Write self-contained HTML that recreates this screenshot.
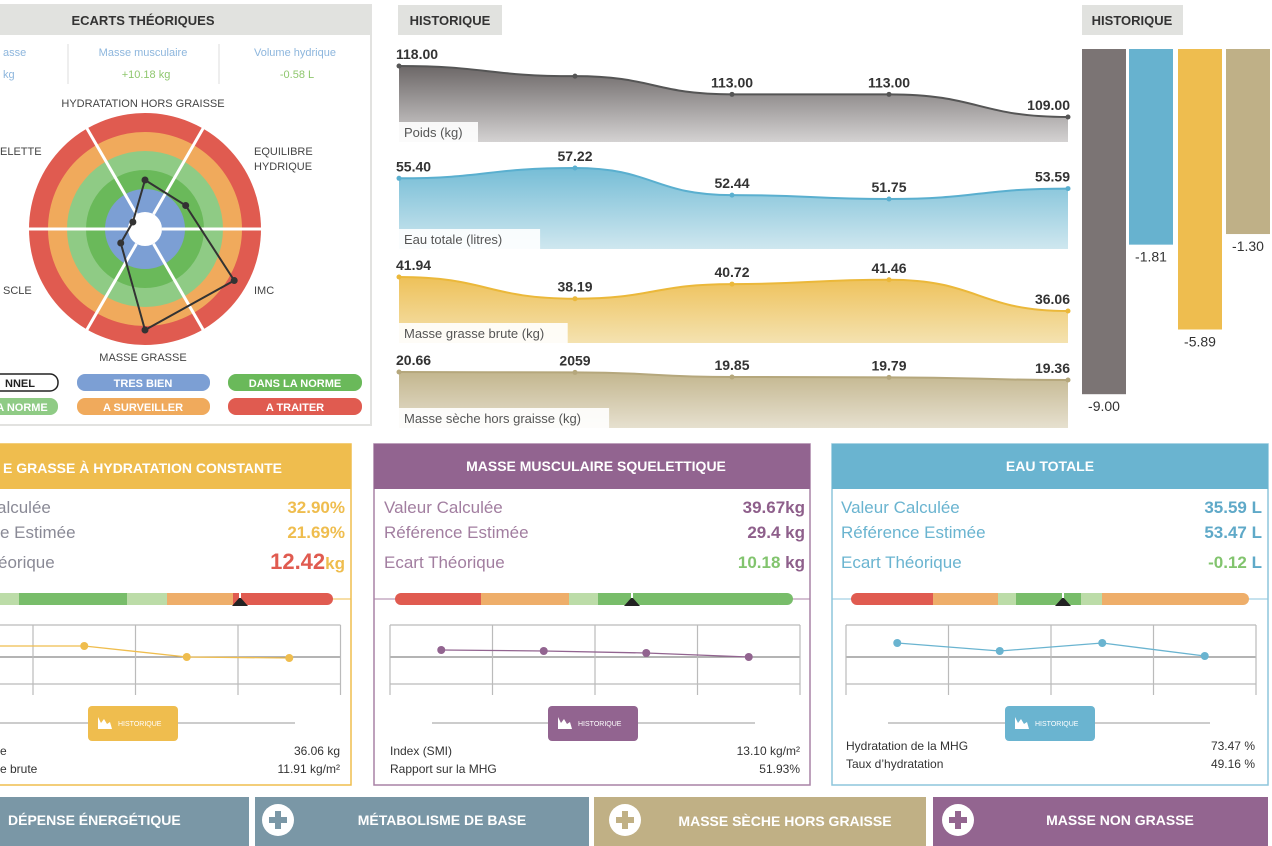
<!DOCTYPE html>
<html><head><meta charset="utf-8"><style>
html,body{margin:0;padding:0;background:#fff;width:1272px;height:846px;overflow:hidden}
svg{display:block;font-family:"Liberation Sans",sans-serif}
</style></head><body>
<svg id="page" width="1272" height="846" viewBox="0 0 1272 846" xmlns="http://www.w3.org/2000/svg">
<defs>
<linearGradient id="gGray" x1="0" y1="0" x2="0" y2="1"><stop offset="0" stop-color="#6c6767"/><stop offset="1" stop-color="#d4d2d2"/></linearGradient>
<linearGradient id="gBlue" x1="0" y1="0" x2="0" y2="1"><stop offset="0" stop-color="#76bdd6"/><stop offset="1" stop-color="#cfe7ef"/></linearGradient>
<linearGradient id="gYellow" x1="0" y1="0" x2="0" y2="1"><stop offset="0" stop-color="#eec159"/><stop offset="1" stop-color="#f4e2b0"/></linearGradient>
<linearGradient id="gTan" x1="0" y1="0" x2="0" y2="1"><stop offset="0" stop-color="#c3b68e"/><stop offset="1" stop-color="#e6e0cf"/></linearGradient>
</defs>

<!-- LEFT PANEL -->
<g>
<rect x="-2" y="5" width="373" height="420" fill="#fff" stroke="#e2e2e0" stroke-width="2"/>
<rect x="-2" y="5" width="373" height="30" fill="#e1e2df"/>
<text x="143" y="25" text-anchor="middle" font-size="13" font-weight="bold" fill="#333">ECARTS THÉORIQUES</text>
<line x1="68" y1="44" x2="68" y2="84" stroke="#ddd"/>
<line x1="219" y1="44" x2="219" y2="84" stroke="#ddd"/>
<text x="3" y="56" font-size="11" fill="#8db6dd">asse</text>
<text x="143" y="56" text-anchor="middle" font-size="11" fill="#8db6dd">Masse musculaire</text>
<text x="295" y="56" text-anchor="middle" font-size="11" fill="#8db6dd">Volume hydrique</text>
<text x="3" y="78" font-size="11" fill="#8db6dd">kg</text>
<text x="146" y="78" text-anchor="middle" font-size="11" fill="#8fc76e">+10.18 kg</text>
<text x="297" y="78" text-anchor="middle" font-size="11" fill="#8fc76e">-0.58 L</text>
<g id="radar"></g>
<g font-size="11" fill="#444">
<text x="143" y="107" text-anchor="middle">HYDRATATION HORS GRAISSE</text>
<text x="0" y="155">ELETTE</text>
<text x="254" y="155">EQUILIBRE</text>
<text x="254" y="170">HYDRIQUE</text>
<text x="3" y="294">SCLE</text>
<text x="254" y="294">IMC</text>
<text x="143" y="361" text-anchor="middle">MASSE GRASSE</text>
</g>
<g font-size="11" font-weight="bold" fill="#fff" text-anchor="middle">
<rect x="-20" y="374" width="78" height="17" rx="8" fill="#fff" stroke="#222" stroke-width="1.5"/>
<text x="20" y="387" fill="#222">NNEL</text>
<rect x="77" y="374" width="133" height="17" rx="8" fill="#7c9fd4"/>
<text x="143" y="387">TRES BIEN</text>
<rect x="228" y="374" width="134" height="17" rx="8" fill="#6ab95a"/>
<text x="295" y="387">DANS LA NORME</text>
<rect x="-20" y="398" width="78" height="17" rx="8" fill="#8fcb85"/>
<text x="22" y="411">A NORME</text>
<rect x="77" y="398" width="133" height="17" rx="8" fill="#f0aa5c"/>
<text x="143" y="411">A SURVEILLER</text>
<rect x="228" y="398" width="134" height="17" rx="8" fill="#e05b50"/>
<text x="295" y="411">A TRAITER</text>
</g>
</g>

<!-- HISTORIQUE AREA CHARTS -->
<rect x="398" y="5" width="104" height="30" fill="#e1e2df"/>
<text x="450" y="25" text-anchor="middle" font-size="13" font-weight="bold" fill="#333">HISTORIQUE</text>
<g id="areas"></g>

<!-- BAR CHART -->
<rect x="1082" y="5" width="101" height="30" fill="#e1e2df"/>
<text x="1132" y="25" text-anchor="middle" font-size="13" font-weight="bold" fill="#333">HISTORIQUE</text>
<g id="bars"></g>

<!-- CARD 1 -->
<g>
<rect x="-10" y="444" width="361" height="341" fill="#fff" stroke="#efbd4e" stroke-width="1.5"/>
<rect x="-10" y="444" width="361" height="45" fill="#efbd4e"/>
<text x="3" y="473" font-size="14" font-weight="bold" fill="#fff">E GRASSE À HYDRATATION CONSTANTE</text>
<g font-size="17" fill="#8a8a96"><text x="-3" y="513">alculée</text><text x="0" y="538">e Estimée</text><text x="-2" y="568">éorique</text></g>
<g font-size="17" font-weight="bold" text-anchor="end"><text x="345" y="513" fill="#efbd4e">32.90%</text><text x="345" y="538" fill="#efbd4e">21.69%</text><text x="345" y="569" fill="#e05b50" font-size="22">12.42<tspan fill="#efbd4e" font-size="17">kg</tspan></text></g>
<line x1="0" y1="599" x2="351" y2="599" stroke="#efbd4e"/>
<rect x="0" y="593" width="19" height="12" fill="#bcdca8"/><rect x="19" y="593" width="108" height="12" fill="#78bd6a"/><rect x="127" y="593" width="40" height="12" fill="#bcdca8"/><rect x="167" y="593" width="66" height="12" fill="#eeae6a"/>
<rect x="233" y="593" width="100" height="12" rx="6" fill="#e05b50"/><rect x="233" y="593" width="10" height="12" fill="#e05b50"/>
<path d="M232 606 L240 597 L248 606 Z" fill="#222"/><line x1="240" y1="590" x2="240" y2="598" stroke="#fff" stroke-width="2"/>
</g>
<!-- CARD 2 -->
<g>
<rect x="374" y="444" width="436" height="341" fill="#fff" stroke="#a882a6" stroke-width="1.5"/>
<rect x="374" y="444" width="436" height="45" fill="#926490"/>
<text x="596" y="471" text-anchor="middle" font-size="14" font-weight="bold" fill="#fff">MASSE MUSCULAIRE SQUELETTIQUE</text>
<g font-size="17" fill="#a27ea0"><text x="384" y="513">Valeur Calculée</text><text x="384" y="538">Référence Estimée</text><text x="384" y="568">Ecart Théorique</text></g>
<g font-size="17" font-weight="bold" text-anchor="end" fill="#8e5f8b"><text x="805" y="513">39.67kg</text><text x="805" y="538">29.4 kg</text><text x="805" y="568"><tspan fill="#82c46e">10.18</tspan> kg</text></g>
<line x1="374" y1="599" x2="810" y2="599" stroke="#a882a6"/>
<rect x="395" y="593" width="20" height="12" rx="6" fill="#e05b50"/><rect x="401" y="593" width="80" height="12" fill="#e05b50"/><rect x="481" y="593" width="88" height="12" fill="#eeae6a"/><rect x="569" y="593" width="29" height="12" fill="#bcdca8"/><rect x="598" y="593" width="180" height="12" fill="#78bd6a"/><rect x="773" y="593" width="20" height="12" rx="6" fill="#78bd6a"/>
<path d="M624 606 L632 597 L640 606 Z" fill="#222"/><line x1="632" y1="590" x2="632" y2="598" stroke="#fff" stroke-width="2"/>
</g>
<!-- CARD 3 -->
<g>
<rect x="832" y="444" width="436" height="341" fill="#fff" stroke="#8ec6dc" stroke-width="1.5"/>
<rect x="832" y="444" width="436" height="45" fill="#6ab4d0"/>
<text x="1050" y="471" text-anchor="middle" font-size="14" font-weight="bold" fill="#fff">EAU TOTALE</text>
<g font-size="17" fill="#6ab4d0"><text x="841" y="513">Valeur Calculée</text><text x="841" y="538">Référence Estimée</text><text x="841" y="568">Ecart Théorique</text></g>
<g font-size="17" font-weight="bold" text-anchor="end" fill="#5fa9c8"><text x="1262" y="513">35.59 L</text><text x="1262" y="538">53.47 L</text><text x="1262" y="568"><tspan fill="#82c46e">-0.12</tspan> L</text></g>
<line x1="832" y1="599" x2="1268" y2="599" stroke="#8ec6dc"/>
<rect x="851" y="593" width="20" height="12" rx="6" fill="#e05b50"/><rect x="858" y="593" width="75" height="12" fill="#e05b50"/><rect x="933" y="593" width="65" height="12" fill="#eeae6a"/><rect x="998" y="593" width="18" height="12" fill="#bcdca8"/><rect x="1016" y="593" width="65" height="12" fill="#78bd6a"/><rect x="1081" y="593" width="21" height="12" fill="#bcdca8"/><rect x="1102" y="593" width="140" height="12" fill="#eeae6a"/><rect x="1229" y="593" width="20" height="12" rx="6" fill="#eeae6a"/>
<path d="M1055 606 L1063 597 L1071 606 Z" fill="#222"/><line x1="1063" y1="590" x2="1063" y2="598" stroke="#fff" stroke-width="2"/>
</g>
<g id="minis"></g>

<!-- footers -->
<g font-size="12" fill="#333">
<text x="0" y="755">e</text><text x="340" y="755" text-anchor="end">36.06 kg</text>
<text x="0" y="773">e brute</text><text x="340" y="773" text-anchor="end">11.91 kg/m²</text>
<text x="390" y="755">Index (SMI)</text><text x="800" y="755" text-anchor="end">13.10 kg/m²</text>
<text x="390" y="773">Rapport sur la MHG</text><text x="800" y="773" text-anchor="end">51.93%</text>
<text x="846" y="750">Hydratation de la MHG</text><text x="1255" y="750" text-anchor="end">73.47 %</text>
<text x="846" y="768">Taux d’hydratation</text><text x="1255" y="768" text-anchor="end">49.16 %</text>
</g>

<!-- bottom buttons -->
<g font-size="14" font-weight="bold" fill="#fff">
<g><rect x="-5" y="797" width="254" height="49" fill="#7a97a6"/><text x="8" y="825">DÉPENSE ÉNERGÉTIQUE</text></g>
<g><rect x="255" y="797" width="334" height="49" fill="#7a97a6"/><circle cx="278" cy="820" r="16" fill="#fff"/><path d="M269 820h18M278 811v18" stroke="#7a97a6" stroke-width="6"/><text x="442" y="825" text-anchor="middle">MÉTABOLISME DE BASE</text></g>
<g><rect x="594" y="797" width="332" height="49" fill="#c0b085"/><circle cx="625" cy="820" r="16" fill="#fff"/><path d="M616 820h18M625 811v18" stroke="#c0b085" stroke-width="6"/><text x="785" y="826" text-anchor="middle">MASSE SÈCHE HORS GRAISSE</text></g>
<g><rect x="933" y="797" width="335" height="49" fill="#936590"/><circle cx="958" cy="820" r="16" fill="#fff"/><path d="M949 820h18M958 811v18" stroke="#936590" stroke-width="6"/><text x="1120" y="825" text-anchor="middle">MASSE NON GRASSE</text></g>
</g>
</svg>
<script>
// ---- data ----
const radarAxes = ['HYDRATATION HORS GRAISSE','EQUILIBRE HYDRIQUE','IMC','MASSE GRASSE','MUSCLE','SQUELETTE'];
const radarValues = [49, 47, 103, 101, 28, 14];
const poidsValues = [118.00, 116.2, 113.00, 113.00, 109.00];
const poidsLabels = ['118.00', '', '113.00', '113.00', '109.00'];
const eauValues = [55.40, 57.22, 52.44, 51.75, 53.59];
const eauLabels = ['55.40', '57.22', '52.44', '51.75', '53.59'];
const grasseValues = [41.94, 38.19, 40.72, 41.46, 36.06];
const grasseLabels = ['41.94', '38.19', '40.72', '41.46', '36.06'];
const secheValues = [20.66, 20.59, 19.85, 19.79, 19.36];
const secheLabels = ['20.66', '2059', '19.85', '19.79', '19.36'];
const barValues = [-9.00, -1.81, -5.89, -1.30];
const barLabels = ['-9.00', '-1.81', '-5.89', '-1.30'];
const miniGrasse = [0.55, 0.55, 0.0, -0.05];
const miniMuscle = [0.35, 0.3, 0.2, 0.0];
const miniEau = [0.7, 0.3, 0.7, 0.05];

const NS = 'http://www.w3.org/2000/svg';
function mk(tag, attrs, parent) { const e = document.createElementNS(NS, tag); for (const k in attrs) e.setAttribute(k, attrs[k]); parent.appendChild(e); return e; }

// ---- radar ----
const radar = document.getElementById('radar');
const cx = 145, cy = 229, rMax = 116;
const rScale = v => v / 116 * rMax;
const rings = [[116,'#e05b50'],[97,'#f0aa5c'],[78,'#8fcb85'],[59,'#6ab95a'],[40,'#7c9fd4'],[17,'#fff']];
rings.forEach(r => { const c = mk('circle', {cx, cy, r: r[0], fill: r[1]}, radar);

 });
for (let i = 0; i < 6; i++) { const a = i * Math.PI / 3;
const l = mk('line', {x1: cx + 17*Math.cos(a), y1: cy + 17*Math.sin(a), x2: cx + 118*Math.cos(a), y2: cy + 118*Math.sin(a), stroke: '#fff', 'stroke-width': 3}, radar);

 }
const ang = i => (-90 + i * 60) * Math.PI / 180;
const rpts = radarValues.map((v, i) => [cx + rScale(v) * Math.cos(ang(i)), cy + rScale(v) * Math.sin(ang(i))]);
const poly = mk('polygon', {points: rpts.map(p => p.join(',')).join(' '), fill: 'none', stroke: '#333', 'stroke-width': 2}, radar);


rpts.forEach(p => { const d = mk('circle', {cx: p[0], cy: p[1], r: 3.5, fill: '#333'}, radar);

 });

// ---- area charts ----
const areas = document.getElementById('areas');
const xs = i => 399 + [0, 176, 333, 490, 669][i];
function curve(pts) { let d = 'M' + pts[0][0] + ' ' + pts[0][1]; for (let i = 1; i < pts.length; i++) { const mx = (pts[i-1][0] + pts[i][0]) / 2; d += ' C' + mx + ' ' + pts[i-1][1] + ' ' + mx + ' ' + pts[i][1] + ' ' + pts[i][0] + ' ' + pts[i][1]; } return d; }
function area(vals, labels, cfg) {
  const y = v => cfg.y0 - (v - cfg.vmin) * cfg.k;
  const pts = vals.map((v, i) => [xs(i), y(v)]);
  const g = mk('g', {}, areas);
  
  
  const c = curve(pts);
  const f = mk('path', {d: c + ' L1068 ' + cfg.base + ' L399 ' + cfg.base + ' Z', fill: cfg.grad}, g);
  
  
  const ln = mk('path', {d: c, fill: 'none', stroke: cfg.line, 'stroke-width': 2}, g);
  
  
  pts.forEach((p, i) => {
    const dt = mk('circle', {cx: p[0], cy: p[1], r: 2.5, fill: cfg.line}, g);
    
    
    if (labels[i]) {
      const anchor = i === 0 ? 'start' : (i === vals.length - 1 ? 'end' : 'middle');
      const tx = i === 0 ? 396 : (i === vals.length - 1 ? 1070 : p[0]);
      const t = mk('text', {x: tx, y: p[1] - 7, 'text-anchor': anchor, 'font-size': 14, 'font-weight': 'bold', fill: '#333'}, g);
      t.textContent = labels[i];
      
      
    }
  });
  const bw = cfg.title.length * 6.9 + 10;
  const lb = mk('rect', {x: 399, y: cfg.base - 20, width: bw, height: 20, fill: '#fff', opacity: 0.9}, g);
  
  
  const lt = mk('text', {x: 404, y: cfg.base - 5, 'font-size': 13, fill: '#555'}, g);
  lt.textContent = cfg.title;
  
  
}
area(poidsValues, poidsLabels, {vmin: 109, y0: 117, k: 5.67, base: 142, grad: 'url(#gGray)', line: '#555', title: 'Poids (kg)', name: 'poids-chart'});
area(eauValues, eauLabels, {vmin: 51.75, y0: 199, k: 5.67, base: 249, grad: 'url(#gBlue)', line: '#5aafcf', title: 'Eau totale (litres)', name: 'eau-totale-chart'});
area(grasseValues, grasseLabels, {vmin: 36.06, y0: 311, k: 5.78, base: 343, grad: 'url(#gYellow)', line: '#ebb83a', title: 'Masse grasse brute (kg)', name: 'masse-grasse-chart'});
area(secheValues, secheLabels, {vmin: 19.36, y0: 380, k: 6.15, base: 428, grad: 'url(#gTan)', line: '#b5a77c', title: 'Masse sèche hors graisse (kg)', name: 'masse-seche-chart'});

// ---- bars ----
const bars = document.getElementById('bars');
const barX = [1082, 1129, 1178, 1226];
const barColors = ['#7b7474', '#67b2cf', '#eebd4f', '#bfb087'];
const hScale = v => 158 + 20.8 * Math.abs(v);
barValues.forEach((v, i) => {
  const h = hScale(v);
  const r = mk('rect', {x: barX[i], y: 49, width: 44, height: h, fill: barColors[i]}, bars);
  
  
  const t = mk('text', {x: barX[i] + 22, y: 49 + h + 17, 'text-anchor': 'middle', 'font-size': 14, fill: '#333'}, bars);
  t.textContent = barLabels[i];
  
  
});

// ---- mini charts ----
const minis = document.getElementById('minis');
function mini(vals, cfg) {
  const g = mk('g', {}, minis);
  
  
  const x0 = cfg.x0, w = 102.5;
  [625, 657, 684].forEach((yy, j) => { const l = mk('line', {x1: Math.max(x0, 0), y1: yy, x2: x0 + 4*w, y2: yy, stroke: j === 1 ? '#888' : '#bbb', 'stroke-width': 1.2}, g);
    
     });
  for (let i = 0; i <= 4; i++) { const l = mk('line', {x1: x0 + i*w, y1: 625, x2: x0 + i*w, y2: 695, stroke: '#bbb', 'stroke-width': 1.2}, g);
    
     }
  const y = v => 657 - v * 20;
  const pts = vals.map((v, i) => [x0 + w/2 + i*w, y(v)]);
  const pl = mk('polyline', {points: pts.map(p => p.join(',')).join(' '), fill: 'none', stroke: cfg.color, 'stroke-width': 1.3}, g);
  
  
  pts.forEach(p => { const c = mk('circle', {cx: p[0], cy: p[1], r: 4, fill: cfg.color}, g);
    
     });
  const sl = mk('line', {x1: cfg.lx1, y1: 723, x2: cfg.lx2, y2: 723, stroke: '#ccc', 'stroke-width': 2}, g);
  
  
  const b = mk('rect', {x: cfg.bx, y: 706, width: 90, height: 35, rx: 4, fill: cfg.color}, g);
  
  
  const ic = mk('path', {d: 'M' + (cfg.bx+10) + ' 729 v-12 l3 6 l3 -4 l3 5 l3 -2 l2 7 z', fill: '#fff'}, g);
  
  
  const t = mk('text', {x: cfg.bx + 30, y: 726, 'font-size': 7, fill: '#fff'}, g);
  t.textContent = 'HISTORIQUE';
  
  
}
mini(miniGrasse, {x0: -69.5, color: '#efbd4e', lx1: 0, lx2: 295, bx: 88, name: 'mini-chart-masse-grasse'});
mini(miniMuscle, {x0: 390, color: '#926490', lx1: 432, lx2: 755, bx: 548, name: 'mini-chart-masse-musculaire'});
mini(miniEau, {x0: 846, color: '#6ab4d0', lx1: 888, lx2: 1210, bx: 1005, name: 'mini-chart-eau-totale'});
</script>
</body></html>
